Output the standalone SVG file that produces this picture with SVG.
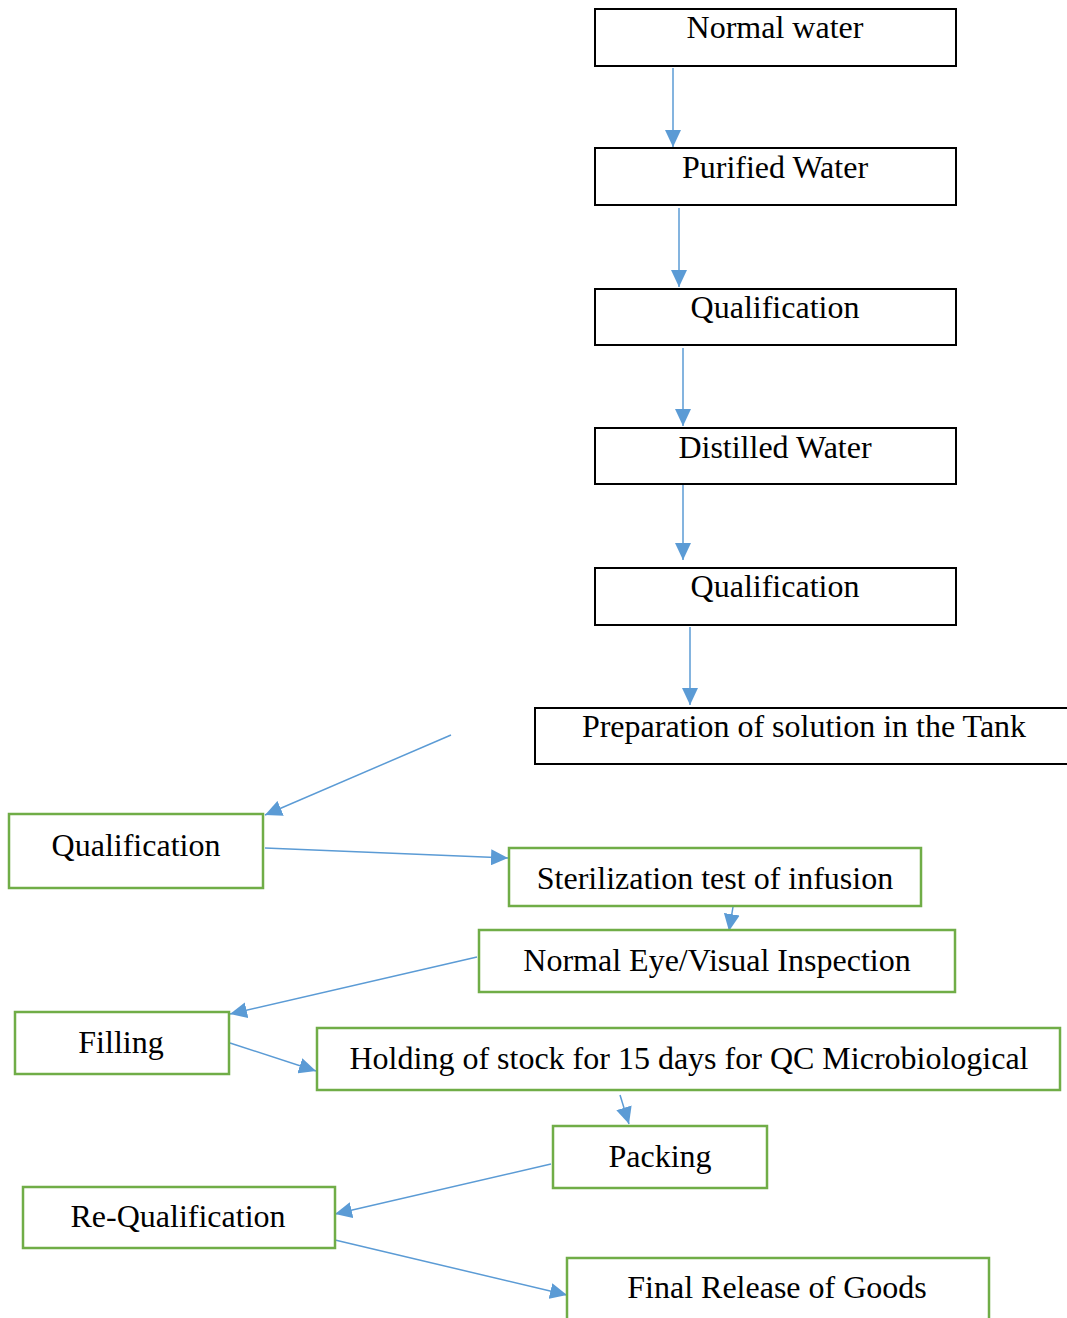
<svg xmlns="http://www.w3.org/2000/svg" width="1067" height="1318" viewBox="0 0 1067 1318">
<style>
.bk{fill:#fff;stroke:#000;stroke-width:2}
.gr{fill:#fff;stroke:#70ad47;stroke-width:2.5}
.t{font-family:"Liberation Serif","Times New Roman",serif;font-size:32px;fill:#000;text-anchor:middle}
.c{stroke:#5b9bd5;stroke-width:1.5;fill:none;marker-end:url(#ah)}
</style>
<defs>
<marker id="ah" markerUnits="userSpaceOnUse" markerWidth="17" markerHeight="16" viewBox="0 0 17 16" refX="17" refY="8" orient="auto">
<path d="M0,0 L17,8 L0,16 Z" fill="#5b9bd5"/>
</marker>
</defs>
<rect width="1067" height="1318" fill="#fff"/>
<g id="connectors">
<line class="c" x1="673" y1="68" x2="673" y2="147"/>
<line class="c" x1="679" y1="208" x2="679" y2="287"/>
<line class="c" x1="683" y1="348" x2="683" y2="426"/>
<line class="c" x1="683" y1="484" x2="683" y2="560"/>
<line class="c" x1="690" y1="627" x2="690" y2="705"/>
<line class="c" x1="451" y1="735" x2="265" y2="815"/>
<line class="c" x1="265" y1="848" x2="508" y2="858"/>
<line class="c" x1="733" y1="907" x2="729" y2="931"/>
<line class="c" x1="477" y1="957" x2="230" y2="1014"/>
<line class="c" x1="230" y1="1043" x2="316" y2="1071"/>
<line class="c" x1="620" y1="1095" x2="629" y2="1124"/>
<line class="c" x1="551" y1="1164" x2="335" y2="1214"/>
<line class="c" x1="335" y1="1240" x2="567" y2="1295"/>
</g>
<g id="n1"><rect class="bk" x="595" y="9" width="361" height="57"/><text class="t" x="775" y="38">Normal water</text></g>
<g id="n2"><rect class="bk" x="595" y="148" width="361" height="57"/><text class="t" x="775" y="178">Purified Water</text></g>
<g id="n3"><rect class="bk" x="595" y="289" width="361" height="56"/><text class="t" x="775" y="318">Qualification</text></g>
<g id="n4"><rect class="bk" x="595" y="428" width="361" height="56"/><text class="t" x="775" y="458">Distilled Water</text></g>
<g id="n5"><rect class="bk" x="595" y="568" width="361" height="57"/><text class="t" x="775" y="597">Qualification</text></g>
<g id="n6"><rect class="bk" x="535" y="708" width="540" height="56"/><text class="t" x="804" y="737">Preparation of solution in the Tank</text></g>
<g id="n7"><rect class="gr" x="9" y="814" width="254" height="74"/><text class="t" x="136" y="856">Qualification</text></g>
<g id="n8"><rect class="gr" x="509" y="848" width="412" height="58"/><text class="t" x="715" y="889">Sterilization test of infusion</text></g>
<g id="n9"><rect class="gr" x="479" y="930" width="476" height="62"/><text class="t" x="717" y="971">Normal Eye/Visual Inspection</text></g>
<g id="n10"><rect class="gr" x="15" y="1012" width="214" height="62"/><text class="t" x="121" y="1053">Filling</text></g>
<g id="n11"><rect class="gr" x="317" y="1028" width="743" height="62"/><text class="t" x="689" y="1069">Holding of stock for 15 days for QC Microbiological</text></g>
<g id="n12"><rect class="gr" x="553" y="1126" width="214" height="62"/><text class="t" x="660" y="1167">Packing</text></g>
<g id="n13"><rect class="gr" x="23" y="1187" width="312" height="61"/><text class="t" x="178" y="1227">Re-Qualification</text></g>
<g id="n14"><rect class="gr" x="567" y="1258" width="422" height="80"/><text class="t" x="777" y="1298">Final Release of Goods</text></g>
</svg>
